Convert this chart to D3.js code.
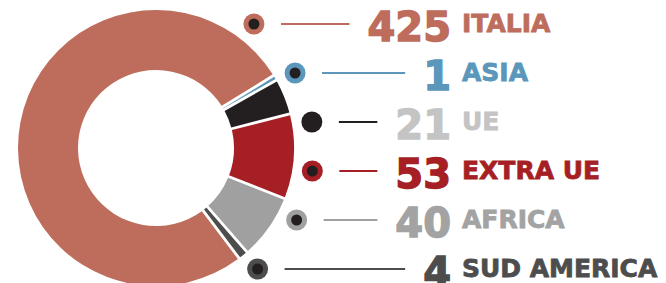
<!DOCTYPE html>
<meta charset="utf-8">
<style>
body { margin: 0; background: #fff; }
text { font-family: "DejaVu Sans", sans-serif; font-weight: bold; }
</style>
<body>
<script src="https://d3js.org/d3.v7.min.js"></script>
<script>

// data
var names = ["ITALIA", "ASIA", "UE", "EXTRA UE", "AFRICA", "SUD AMERICA"];
var values = [425, 1, 21, 53, 40, 4];
var sliceColors = ["#be6c5b", "#5b97bb", "#231f20", "#a61f24", "#a0a0a0", "#4d4d4d"];
var textColors = ["#be6c5b", "#5b97bb", "#c4c4c4", "#a61f24", "#a3a3a3", "#4d4d4d"];

var width = 666, height = 283;
var cx = 156, cy = 148, rOuter = 138, rInner = 78;

var svg = d3.select("body").append("svg")
    .attr("width", width)
    .attr("height", height);

var rows = names.map(function(n, i) {
  return {name: n, value: values[i], color: sliceColors[i], textColor: textColors[i]};
});

// donut
var pie = d3.pie()
    .sort(null)
    .value(function(d) { return d.value; })
    .startAngle(143 * Math.PI / 180)
    .endAngle((143 + 360) * Math.PI / 180)
    .padAngle(0.028);

var arc = d3.arc()
    .innerRadius(rInner)
    .outerRadius(rOuter)
    .padRadius(100);

svg.append("g")
    .attr("transform", "translate(" + cx + "," + cy + ")")
  .selectAll("path")
  .data(pie(rows))
  .enter().append("path")
    .attr("d", arc)
    .attr("fill", function(d) { return d.data.color; });

// legend rows, dots follow a circle around the donut
var y = d3.scalePoint().domain(names).range([24, 269]);
var dotR = 158;
function dotX(d) {
  var dy = y(d.name) - cy;
  return cx + Math.sqrt(dotR * dotR - dy * dy);
}

var leg = svg.append("g").selectAll("g")
  .data(rows)
  .enter().append("g")
    .attr("transform", function(d) { return "translate(0," + y(d.name) + ")"; });

leg.append("circle")
    .attr("cx", dotX)
    .attr("r", 10.5)
    .attr("fill", function(d) { return d.color; });

leg.append("circle")
    .attr("cx", dotX)
    .attr("r", 5.5)
    .attr("fill", "#231f20");

// heavy type: bold plus a thin stroke in the same colour
leg.append("text")
    .attr("x", 451)
    .attr("y", 17)
    .attr("text-anchor", "end")
    .attr("font-size", 40)
    .attr("fill", function(d) { return d.textColor; })
    .attr("stroke", function(d) { return d.textColor; })
    .attr("stroke-width", 1.4)
    .text(function(d) { return d.value; });

leg.append("text")
    .attr("x", 462)
    .attr("y", 8)
    .attr("font-size", 25)
    .attr("fill", function(d) { return d.textColor; })
    .attr("stroke", function(d) { return d.textColor; })
    .attr("stroke-width", 0.8)
    .text(function(d) { return d.name; });

leg.each(function(d) {
  var g = d3.select(this);
  var box = g.select("text").node().getBBox();
  g.insert("line", "text")
      .attr("x1", dotX(d) + 27)
      .attr("x2", box.x - 18)
      .attr("y1", 0)
      .attr("y2", 0)
      .attr("stroke", d.color)
      .attr("stroke-width", 2);
});

</script>
</body>
